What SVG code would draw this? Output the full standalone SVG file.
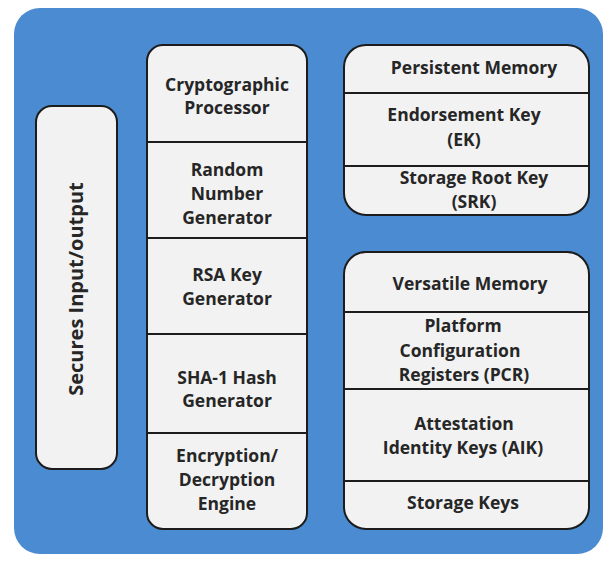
<svg xmlns="http://www.w3.org/2000/svg" width="608" height="562" viewBox="0 0 608 562">
<style>
.box{fill:#f2f2f2;stroke:#1c1c1c;stroke-width:2}
.div{stroke:#1c1c1c;stroke-width:2}
text{font-family:"Open Sans","Liberation Sans",sans-serif;font-weight:bold;font-size:17.5px;fill:#262626;text-anchor:middle}
</style>
<rect x="0" y="0" width="608" height="562" fill="#ffffff"/>
<rect id="frame" x="14" y="8" width="589" height="546" rx="26" fill="#4b8bd1"/>
<g id="io">
<rect class="box" x="36" y="106" width="81" height="363" rx="16"/>
<text transform="translate(83,289) rotate(-90)" style="font-size:20px">Secures Input/output</text>
</g>
<g id="engine">
<rect class="box" x="147" y="45" width="160" height="484" rx="16"/>
<line class="div" x1="147" y1="142" x2="307" y2="142"/>
<line class="div" x1="147" y1="238" x2="307" y2="238"/>
<line class="div" x1="147" y1="334" x2="307" y2="334"/>
<line class="div" x1="147" y1="433" x2="307" y2="433"/>
<text x="227" y="91">Cryptographic</text>
<text x="227" y="114">Processor</text>
<text x="227" y="176">Random</text>
<text x="227" y="200">Number</text>
<text x="227" y="224">Generator</text>
<text x="227" y="281">RSA Key</text>
<text x="227" y="305">Generator</text>
<text x="227" y="384">SHA-1 Hash</text>
<text x="227" y="407">Generator</text>
<text x="227" y="462">Encryption/</text>
<text x="227" y="486">Decryption</text>
<text x="227" y="510">Engine</text>
</g>
<g id="persistent">
<rect class="box" x="344" y="45" width="245" height="170" rx="22"/>
<line class="div" x1="344" y1="93" x2="589" y2="93"/>
<line class="div" x1="344" y1="166" x2="589" y2="166"/>
<text x="474" y="74">Persistent Memory</text>
<text x="464" y="121">Endorsement Key</text>
<text x="464" y="146">(EK)</text>
<text x="474" y="184">Storage Root Key</text>
<text x="474" y="208">(SRK)</text>
</g>
<g id="versatile">
<rect class="box" x="344" y="252" width="245" height="277" rx="22"/>
<line class="div" x1="344" y1="312" x2="589" y2="312"/>
<line class="div" x1="344" y1="389" x2="589" y2="389"/>
<line class="div" x1="344" y1="481" x2="589" y2="481"/>
<text x="470" y="290">Versatile Memory</text>
<text x="463" y="332">Platform</text>
<text x="460" y="357">Configuration</text>
<text x="464" y="381">Registers (PCR)</text>
<text x="464" y="430">Attestation</text>
<text x="463" y="454">Identity Keys (AIK)</text>
<text x="463" y="509">Storage Keys</text>
</g>
<g id="connectors"></g>
</svg>
